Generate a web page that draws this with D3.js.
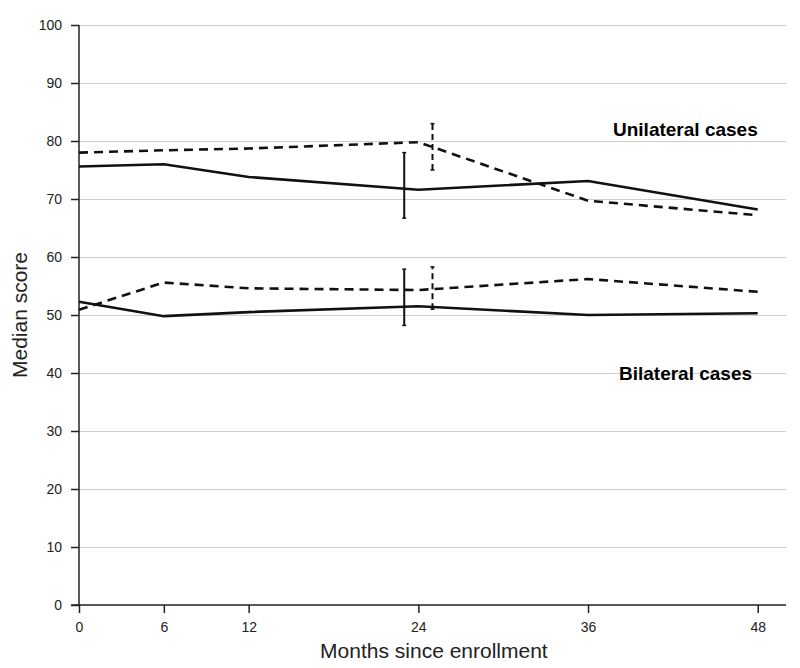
<!DOCTYPE html>
<html>
<head>
<meta charset="utf-8">
<script src="https://cdn.jsdelivr.net/npm/d3@7"></script>
<style>
  body { margin: 0; background: #fff; }
  text { font-family: "Liberation Sans", Arial, sans-serif; }
  .grid line { stroke: #cfcfcf; stroke-width: 1; }
  .grid path { display: none; }
  .axis path, .axis line { stroke: #222; stroke-width: 1.5; }
  .axis text { font-size: 14px; fill: #222; }
</style>
</head>
<body>
<div id="chart"></div>
<script>
// months of follow-up
var months = [0, 6, 12, 24, 36, 48];
var yTicks = [0, 10, 20, 30, 40, 50, 60, 70, 80, 90, 100];
var xTicks = [0, 6, 12, 24, 36, 48];

// median scores
var uniSolid  = [75.6, 76.0, 73.8, 71.6, 73.1, 68.2];
var uniDashed = [78.0, 78.4, 78.7, 79.8, 69.7, 67.2];
var biSolid   = [52.3, 49.8, 50.5, 51.5, 50.0, 50.3];
var biDashed  = [50.9, 55.6, 54.6, 54.3, 56.2, 54.0];

// error bars: [month, low, high]
var errSolid  = [[23, 66.7, 78.0], [23, 48.2, 57.9]];
var errDashed = [[25, 75.0, 83.0], [25, 51.0, 58.3]];

var width = 800, height = 668;
var margin = {top: 25, right: 14, bottom: 63, left: 79};
var chartWidth = width - margin.left - margin.right;
var chartHeight = height - margin.top - margin.bottom;

var svg = d3.select('#chart').append('svg')
    .attr('width', width)
    .attr('height', height)
    .append('g')
    .attr('transform', `translate(${margin.left}, ${margin.top})`);

var xScale = d3.scaleLinear().domain([0, 50]).range([0, chartWidth]);
var yScale = d3.scaleLinear().domain([0, 100]).range([chartHeight, 0]);

// horizontal grid
svg.append('g')
    .attr('class', 'grid')
    .call(d3.axisLeft(yScale).tickValues(yTicks.slice(1)).tickSize(-chartWidth).tickFormat(''));

var xAxis = d3.axisBottom(xScale).tickValues(xTicks).tickSize(8).tickPadding(9).tickFormat(d3.format('d'));
var yAxis = d3.axisLeft(yScale).tickValues(yTicks).tickSize(8).tickPadding(9).tickFormat(d3.format('d'));

svg.append('g')
    .attr('class', 'x axis')
    .attr('transform', `translate(0,${chartHeight})`)
    .call(xAxis)
    .call(function(g) { g.select('.domain').attr('d', `M${-8},0H${chartWidth}`); });

svg.append('g')
    .attr('class', 'y axis')
    .call(yAxis)
    .call(function(g) { g.select('.domain').attr('d', `M0,${chartHeight}V0`); });

var line = d3.line()
    .x(function(d) { return xScale(d[0]); })
    .y(function(d) { return yScale(d[1]); });

function series(vals, dashed) {
  svg.append('path')
      .datum(months.map(function(m, i) { return [m, vals[i]]; }))
      .attr('fill', 'none')
      .attr('stroke', '#111')
      .attr('stroke-width', 2.6)
      .attr('stroke-dasharray', dashed ? '9,6' : null)
      .attr('d', line);
}
series(uniSolid, false);
series(uniDashed, true);
series(biSolid, false);
series(biDashed, true);

function errorBars(data, dashed) {
  var g = svg.append('g').selectAll('g').data(data).enter().append('g');
  g.append('line')
      .attr('x1', function(d) { return xScale(d[0]); })
      .attr('x2', function(d) { return xScale(d[0]); })
      .attr('y1', function(d) { return yScale(d[1]); })
      .attr('y2', function(d) { return yScale(d[2]); })
      .attr('stroke', '#111')
      .attr('stroke-width', 2)
      .attr('stroke-dasharray', dashed ? '6,4' : null);
  [1, 2].forEach(function(k) {
    g.append('line')
        .attr('x1', function(d) { return xScale(d[0]) - 2; })
        .attr('x2', function(d) { return xScale(d[0]) + 2; })
        .attr('y1', function(d) { return yScale(d[k]); })
        .attr('y2', function(d) { return yScale(d[k]); })
        .attr('stroke', '#111')
        .attr('stroke-width', 1.5);
  });
}
errorBars(errSolid, false);
errorBars(errDashed, true);

// group labels
svg.append('text')
    .attr('x', xScale(48)).attr('y', yScale(80) - 5)
    .attr('text-anchor', 'end')
    .style('font-size', '19px').style('font-weight', 'bold')
    .text('Unilateral cases');

svg.append('text')
    .attr('x', xScale(47.6)).attr('y', yScale(40) + 7)
    .attr('text-anchor', 'end')
    .style('font-size', '19px').style('font-weight', 'bold')
    .text('Bilateral cases');

// axis titles
svg.append('text')
    .attr('x', xScale(25.1)).attr('y', chartHeight + 53)
    .attr('text-anchor', 'middle')
    .style('font-size', '21px').style('fill', '#222')
    .text('Months since enrollment');

svg.append('text')
    .attr('transform', `translate(${-52}, ${yScale(50)}) rotate(-90)`)
    .attr('text-anchor', 'middle')
    .style('font-size', '21px').style('fill', '#222')
    .text('Median score');
</script>
</body>
</html>
